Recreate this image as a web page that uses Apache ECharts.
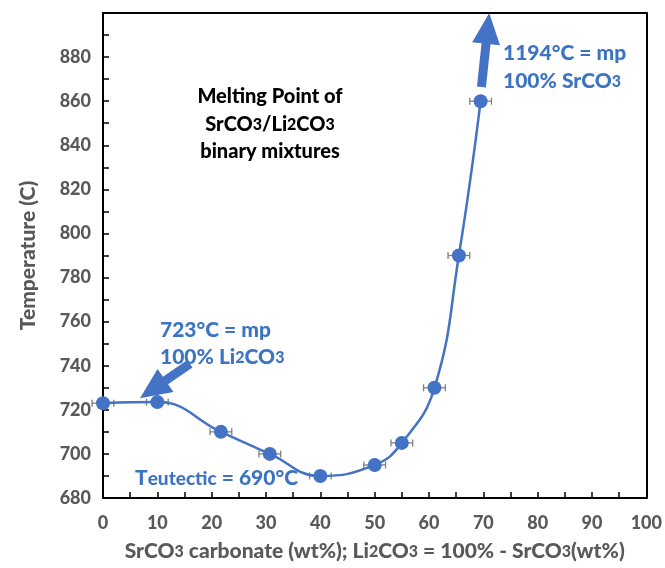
<!DOCTYPE html>
<html>
<head>
<meta charset="utf-8">
<script src="https://cdn.jsdelivr.net/npm/echarts@6/dist/echarts.min.js"></script>
<style>
html,body{margin:0;padding:0;background:#fff;}
#chart{width:665px;height:568px;}
</style>
</head>
<body>
<div id="chart"></div>
<script>
// ---- data ----
const srco3Pct = [0, 10, 21.7, 30.7, 40, 50, 55, 61, 65.5, 69.5];
const meltTemp = [723, 723.5, 710, 700, 690, 695, 705, 730, 790, 860];
const xError = [2, 2, 2, 2, 2, 2, 2, 2, 2, 2];
// annotation arrows: [fromX, fromT, toX, toT]
const arrowLi = [16.0, 740.9, 6.8, 725.3];
const arrowSr = [69.65, 866.4, 71.1, 900];
const xTicks = { min: 0, max: 100, interval: 10 };
const yTicks = { min: 680, max: 900, interval: 20 };

const BLUE = '#4472C4';
const TXTBLUE = '#3C74C2';
const FONT = 'Lato, "Open Sans", sans-serif';
const W = 900;

const pointData = srco3Pct.map((x, i) => [x, meltTemp[i]]);
const errData = srco3Pct.map((x, i) => [x, meltTemp[i], xError[i]]);

function renderErr(params, api) {
  const x = api.value(0), y = api.value(1), e = api.value(2);
  const a = api.coord([x - e, y]);
  const b = api.coord([x + e, y]);
  const c = 3.5;
  const st = { stroke: '#7F7F7F', lineWidth: 1.3 };
  return {
    type: 'group',
    children: [
      { type: 'line', shape: { x1: a[0], y1: a[1], x2: b[0], y2: b[1] }, style: st },
      { type: 'line', shape: { x1: a[0], y1: a[1] - c, x2: a[0], y2: a[1] + c }, style: st },
      { type: 'line', shape: { x1: b[0], y1: b[1] - c, x2: b[0], y2: b[1] + c }, style: st }
    ]
  };
}

function renderArrow(params, api) {
  const p0 = api.coord([api.value(0), api.value(1)]);
  const p1 = api.coord([api.value(2), api.value(3)]);
  const dx = p1[0] - p0[0], dy = p1[1] - p0[1];
  const len = Math.sqrt(dx * dx + dy * dy);
  const ux = dx / len, uy = dy / len;
  const nx = -uy, ny = ux;
  const sw = 4.5, hw = 14, hl = 31;
  const bx = p1[0] - ux * hl, by = p1[1] - uy * hl;
  const pts = [
    [p0[0] + nx * sw, p0[1] + ny * sw],
    [bx + nx * sw, by + ny * sw],
    [bx + nx * hw, by + ny * hw],
    [p1[0], p1[1]],
    [bx - nx * hw, by - ny * hw],
    [bx - nx * sw, by - ny * sw],
    [p0[0] - nx * sw, p0[1] - ny * sw]
  ];
  return { type: 'polygon', shape: { points: pts }, style: { fill: BLUE } };
}

const chart = echarts.init(document.getElementById('chart'));

function blueText(x, y, text, rich) {
  return {
    type: 'text', left: x, top: y,
    style: { text: text, fill: TXTBLUE, font: W + ' 21px ' + FONT, rich: rich }
  };
}
const blueRich = { s: { fill: TXTBLUE, fontSize: 16, fontWeight: W, fontFamily: FONT } };
const blackRich = { s: { fill: '#000', fontSize: 16, fontWeight: W, fontFamily: FONT } };

function blackText(cx, y, text) {
  return {
    type: 'text', x: cx, y: y,
    style: { text: text, fill: '#000', font: W + ' 20px ' + FONT, align: 'center', verticalAlign: 'middle', rich: blackRich }
  };
}

const tickStyle = { color: '#000', width: 1.5 };
const lineSty = { show: true, onZero: false, lineStyle: { color: '#000', width: 2 } };

chart.setOption({
  animation: false,
  backgroundColor: '#fff',
  grid: { left: 103, right: 16, top: 13, bottom: 70 },
  xAxis: [{
    type: 'value', min: xTicks.min, max: xTicks.max, interval: xTicks.interval,
    name: 'SrCO{s|3} carbonate (wt%); Li{s|2}CO{s|3} = 100% - SrCO{s|3}(wt%)',
    nameLocation: 'middle', nameGap: 43,
    nameTextStyle: { color: '#595959', fontSize: 21, fontWeight: W, fontFamily: FONT,
      rich: { s: { color: '#595959', fontSize: 16, fontWeight: W, fontFamily: FONT } } },
    axisLine: lineSty,
    axisTick: { show: true, inside: true, length: 6, lineStyle: tickStyle },
    minorTick: { show: true, splitNumber: 2, length: 6, lineStyle: tickStyle },
    axisLabel: { color: '#595959', fontSize: 18, fontWeight: W, fontFamily: FONT, margin: 16 },
    splitLine: { show: false }
  }, {
    type: 'value', position: 'top', min: xTicks.min, max: xTicks.max,
    axisLine: lineSty, axisTick: { show: false }, axisLabel: { show: false }, splitLine: { show: false }
  }],
  yAxis: [{
    type: 'value', min: yTicks.min, max: yTicks.max, interval: yTicks.interval,
    name: 'Temperature (C)', nameLocation: 'middle', nameGap: 64,
    nameTextStyle: { color: '#595959', fontSize: 21, fontWeight: W, fontFamily: FONT },
    axisLine: lineSty,
    axisTick: { show: true, inside: true, length: 6, lineStyle: tickStyle },
    minorTick: { show: true, splitNumber: 2, length: 6, lineStyle: tickStyle },
    axisLabel: { color: '#595959', fontSize: 18, fontWeight: W, fontFamily: FONT, margin: 12,
      showMaxLabel: false },
    splitLine: { show: false }
  }, {
    type: 'value', position: 'right', min: yTicks.min, max: yTicks.max,
    axisLine: lineSty, axisTick: { show: false }, axisLabel: { show: false }, splitLine: { show: false }
  }],
  series: [
    {
      type: 'custom', renderItem: renderErr, data: errData, z: 2, clip: false,
      encode: { x: 0, y: 1 }
    },
    {
      type: 'line', data: pointData, smooth: 0.45, z: 3, clip: false,
      symbol: 'circle', symbolSize: 14,
      lineStyle: { color: BLUE, width: 2.5 },
      itemStyle: { color: BLUE }
    },
    {
      type: 'custom', renderItem: renderArrow, data: [arrowLi, arrowSr], z: 4, clip: false,
      encode: { x: [0, 2], y: [1, 3] }
    }
  ],
  graphic: [
    blackText(270, 97, 'Melting Point of'),
    blackText(270, 125, 'SrCO{s|3}/Li{s|2}CO{s|3}'),
    blackText(270, 152, 'binary mixtures'),
    blueText(160, 320, '723°C = mp', blueRich),
    blueText(160, 347, '100% Li{s|2}CO{s|3}', blueRich),
    blueText(503, 43, '1194°C = mp', blueRich),
    blueText(503, 71, '100% SrCO{s|3}', blueRich),
    blueText(135, 468, 'T{e|eutectic} = 690°C', { e: { fill: TXTBLUE, fontSize: 19, fontWeight: W, fontFamily: FONT } })
  ]
});
</script>
</body>
</html>
